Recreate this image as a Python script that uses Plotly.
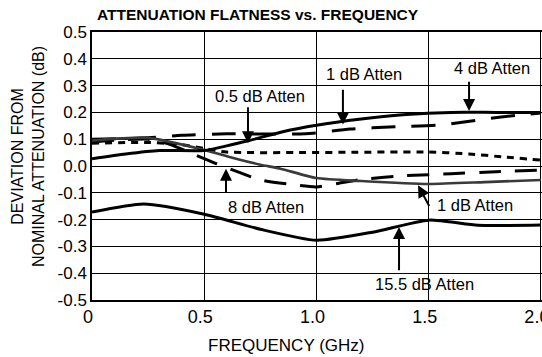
import plotly.graph_objects as go

# Frequency (GHz) and deviation (dB) for each attenuation setting
freq_a = [0, 0.15, 0.3, 0.5, 0.6, 0.7, 0.85, 1.0, 1.2, 1.4, 1.6, 1.8, 2.0]
dev_a = [0.027, 0.045, 0.058, 0.058, 0.075, 0.095, 0.128, 0.152, 0.175, 0.192, 0.2, 0.2, 0.2]

freq_b = [0, 0.25, 0.5, 0.65, 0.75, 0.84, 1.0, 1.2, 1.5, 1.75, 2.0]
dev_b = [0.095, 0.105, 0.06, 0.025, 0.005, -0.01, -0.045, -0.056, -0.067, -0.06, -0.052]

freq_c = [0, 0.25, 0.4, 0.6, 0.95, 1.15, 1.35, 1.55, 1.75, 1.9, 2.0]
dev_c = [0.1, 0.105, 0.115, 0.12, 0.12, 0.138, 0.146, 0.153, 0.175, 0.19, 0.198]

freq_d = [0, 0.25, 0.35, 0.45, 0.55, 0.65, 0.75, 0.9, 1.0, 1.1, 1.2, 1.4, 1.6, 1.8, 2.0]
dev_d = [0.09, 0.1, 0.08, 0.045, 0.01, -0.022, -0.052, -0.07, -0.078, -0.064, -0.05, -0.036, -0.029, -0.021, -0.015]

freq_e = [0, 0.25, 0.4, 0.5, 0.6, 1.5, 1.68, 1.83, 2.0]
dev_e = [0.085, 0.088, 0.08, 0.065, 0.052, 0.052, 0.045, 0.034, 0.022]

freq_f = [0, 0.23, 0.5, 0.75, 1.0, 1.25, 1.5, 1.72, 2.0]
dev_f = [-0.172, -0.142, -0.18, -0.236, -0.277, -0.247, -0.202, -0.221, -0.22]

x_ticks = [0, 0.5, 1.0, 1.5, 2.0]
x_tick_text = ["0", "0.5", "1.0", "1.5", "2.0"]
y_ticks = [0.5, 0.4, 0.3, 0.2, 0.1, 0.0, -0.1, -0.2, -0.3, -0.4, -0.5]
y_tick_text = ["0.5", "0.4", "0.3", "0.2", "0.1", "0.0", "-0.1", "-0.2", "-0.3", "-0.4", "-0.5"]

# Curve labels: text, text position, arrow tail, arrow tip
label_text = ["0.5 dB Atten", "1 dB Atten", "4 dB Atten", "8 dB Atten", "1 dB Atten", "15.5 dB Atten"]
label_x = [0.75, 1.212, 1.783, 0.775, 1.707, 1.48]
label_y = [0.262, 0.345, 0.365, -0.152, -0.145, -0.44]
tail_x = [0.695, 1.118, 1.68, 0.597, 1.506, 1.368]
tail_y = [0.225, 0.29, 0.32, -0.105, -0.155, -0.395]
tip_x = [0.695, 1.118, 1.68, 0.597, 1.453, 1.368]
tip_y = [0.085, 0.155, 0.205, -0.01, -0.072, -0.228]

FONT = "Liberation Sans, Arial, Helvetica, sans-serif"

fig = go.Figure()

curves = [
    (freq_d, dev_d, dict(color="black", width=3, dash="22px,14px")),
    (freq_c, dev_c, dict(color="black", width=3, dash="24px,16px")),
    (freq_e, dev_e, dict(color="black", width=3, dash="7px,6px")),
    (freq_b, dev_b, dict(color="#3a3a3a", width=2.6)),
    (freq_a, dev_a, dict(color="black", width=3)),
    (freq_f, dev_f, dict(color="black", width=3)),
]
for fx, fy, ln in curves:
    fig.add_trace(go.Scatter(x=fx, y=fy, mode="lines", line=dict(shape="spline", smoothing=0.6, **ln),
                             showlegend=False, hoverinfo="skip"))

annotations = []
for t, lx, ly, ax_, ay_, px_, py_ in zip(label_text, label_x, label_y, tail_x, tail_y, tip_x, tip_y):
    annotations.append(dict(x=lx, y=ly, xref="x", yref="y", text=t, showarrow=False,
                            font=dict(family=FONT, size=16.5, color="black"),
                            xanchor="center", yanchor="middle", bgcolor="rgba(0,0,0,0)"))
    annotations.append(dict(x=px_, y=py_, xref="x", yref="y", ax=ax_, ay=ay_, axref="x", ayref="y",
                            text="", showarrow=True, arrowhead=2, arrowsize=1.2, arrowwidth=2,
                            arrowcolor="black"))

# two-line vertical axis title
annotations.append(dict(x=-0.142, y=0.534, xref="paper", yref="paper", textangle=-90,
                        text="DEVIATION FROM<br>NOMINAL ATTENUATION (dB)", showarrow=False,
                        font=dict(family=FONT, size=16, color="black"),
                        xanchor="center", yanchor="middle"))
# horizontal axis title
annotations.append(dict(x=0.43, y=-0.168, xref="paper", yref="paper", text="FREQUENCY (GHz)",
                        showarrow=False, font=dict(family=FONT, size=17, color="black"),
                        xanchor="center", yanchor="middle"))

fig.update_layout(
    width=542, height=357,
    margin=dict(l=92, r=0, t=32, b=57, autoexpand=False),
    paper_bgcolor="white", plot_bgcolor="white",
    title=dict(text="<b>ATTENUATION FLATNESS vs. FREQUENCY</b>", x=0.011, xanchor="left",
               xref="paper", yref="container", y=1 - 15 / 357, yanchor="middle",
               font=dict(family=FONT, size=15.5, color="black")),
    annotations=annotations,
    xaxis=dict(range=[0, 2.005], tickvals=x_ticks, ticktext=x_tick_text, showgrid=True,
               gridcolor="black", gridwidth=1, showline=True, linecolor="black", linewidth=1.5,
               mirror=True, zeroline=False, ticks="", ticklen=0, ticklabeloverflow="allow",
               ticklabelshift=-4, automargin=False,
               tickfont=dict(family=FONT, size=18, color="black")),
    yaxis=dict(range=[-0.5, 0.5], tickvals=y_ticks, ticktext=y_tick_text, showgrid=True,
               gridcolor="black", gridwidth=1, showline=True, linecolor="black", linewidth=1.5,
               zeroline=False, ticks="", ticklen=0, automargin=False,
               tickfont=dict(family=FONT, size=17, color="black")),
)

fig.write_html("out.html")
